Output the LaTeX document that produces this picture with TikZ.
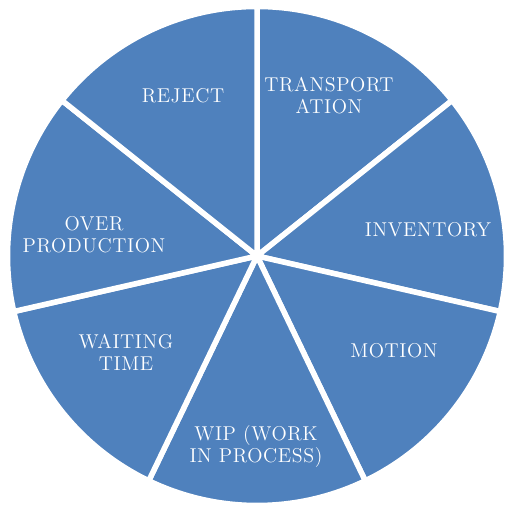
\documentclass[tikz,border=0pt]{standalone}
\usepackage{fontspec}
\newfontfamily\lblfont[LetterSpace=3]{lmroman12-regular.otf}
\definecolor{pieblue}{HTML}{4F81BD}
\tikzset{
  slice/.style={fill=pieblue, draw=white, line width=5.5pt, line join=round},
  lbl/.style={text=white, align=center, font=\lblfont\fontsize{20}{22}\selectfont, inner sep=0pt}
}

\begin{document}
\begin{tikzpicture}[x=1pt, y=1pt]
    \useasboundingbox (0,0) rectangle (505,504);
    \coordinate (c) at (257,248);

    % Draw slices (seven equal parts, clockwise from the top)
    \foreach \i in {0,...,6} {
        \pgfmathsetmacro{\a}{90-\i*360/7}
        \pgfmathsetmacro{\b}{90-(\i+1)*360/7}
        \ifnum\i=1
            \fill[slice, shift={(12.86:7)}] (c) -- ++(\a:249.5) arc (\a:\b:249.5) -- cycle;
        \else
            \fill[slice] (c) -- ++(\a:249.5) arc (\a:\b:249.5) -- cycle;
        \fi
    }

    % Draw labels
    \node[lbl] (reject)    at (183,408) {REJECT};
    \node[lbl] (transport) at (329,408) {TRANSPORT\\ATION};
    \node[lbl] (inventory) at (428,274) {INVENTORY};
    \node[lbl] (motion)    at (394,153) {MOTION};
    \node[lbl] (wip)       at (256,57)  {WIP (WORK\\IN PROCESS)};
    \node[lbl] (waiting)   at (126,152) {WAITING\\TIME};
    \node[lbl] (over)      at (94,269)  {OVER\\PRODUCTION};
\end{tikzpicture}
\end{document}
